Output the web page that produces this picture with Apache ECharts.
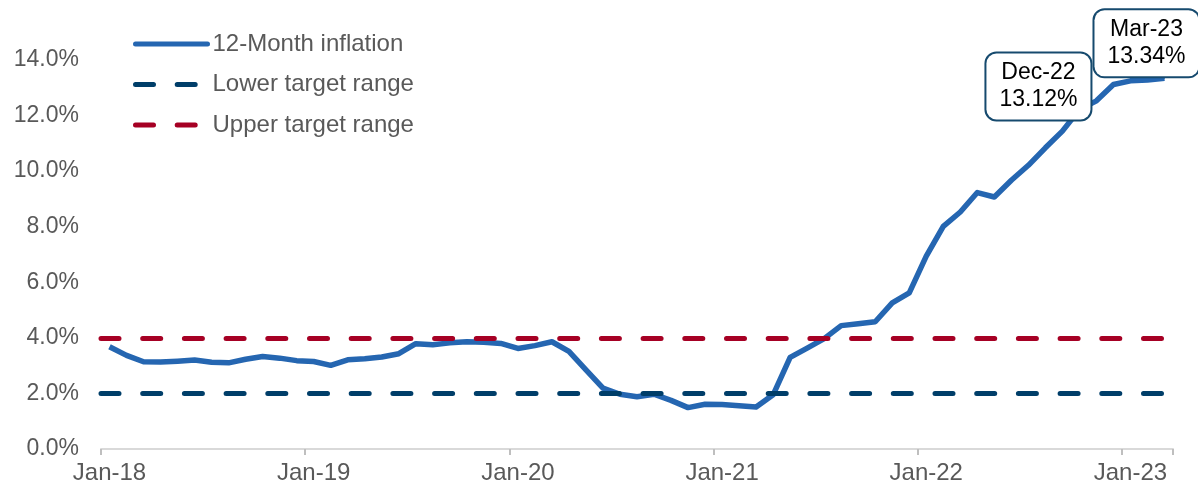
<!DOCTYPE html>
<html>
<head>
<meta charset="utf-8">
<script src="https://cdn.jsdelivr.net/npm/echarts@6/dist/echarts.min.js"></script>
<style>
  html, body { margin: 0; padding: 0; background: #fff; }
  #chart { width: 1198px; height: 488px; }
</style>
</head>
<body>
<div id="chart"></div>
<script>
// month labels Jan-18 .. Mar-23
var monthNames = ['Jan', 'Feb', 'Mar', 'Apr', 'May', 'Jun', 'Jul', 'Aug', 'Sep', 'Oct', 'Nov', 'Dec'];
var years = ['18', '19', '20', '21', '22', '23'];
var categories = [];
years.forEach(function (y) {
  monthNames.forEach(function (m) { categories.push(m + '-' + y); });
});
categories = categories.slice(0, 63);

// 12-month inflation, %
var inflation = [
  3.68, 3.37, 3.14, 3.13, 3.16, 3.20, 3.12, 3.10, 3.23, 3.33, 3.27, 3.18,
  3.15, 3.01, 3.21, 3.25, 3.31, 3.43, 3.79, 3.75, 3.82, 3.86, 3.84, 3.80,
  3.62, 3.72, 3.86, 3.51, 2.85, 2.19, 1.97, 1.88, 1.97, 1.75, 1.49, 1.61,
  1.60, 1.56, 1.51, 1.95, 3.30, 3.63, 3.97, 4.44, 4.51, 4.58, 5.26, 5.62,
  6.94, 8.01, 8.53, 9.23, 9.07, 9.67, 10.21, 10.84, 11.44, 12.22, 12.53, 13.12,
  13.25, 13.28, 13.34
];
var lowerTarget = 2;
var upperTarget = 4;
var yTicks = [0, 2, 4, 6, 8, 10, 12, 14];

var font = 'Liberation Sans, Arial, sans-serif';
var grey = '#595959';

var boxLabel = {
  show: true,
  position: 'inside',
  formatter: function (p) { return p.name + '\n' + p.value.toFixed(2) + '%'; },
  color: '#000',
  fontFamily: font,
  fontSize: 23,
  lineHeight: 27,
  align: 'center',
  verticalAlign: 'middle',
  backgroundColor: '#fff',
  borderColor: '#164a6e',
  borderWidth: 2,
  borderRadius: 10,
  padding: [6, 13]
};

var lineData = inflation.map(function (v, i) {
  if (categories[i] === 'Dec-22') {
    return { value: v, symbol: 'circle', symbolSize: 1,
      label: Object.assign({}, boxLabel, { offset: [-75, 2] }) };
  }
  if (categories[i] === 'Mar-23') {
    return { value: v, symbol: 'circle', symbolSize: 1,
      label: Object.assign({}, boxLabel, { offset: [-18, -35] }) };
  }
  return v;
});

var chart = echarts.init(document.getElementById('chart'));
chart.setOption({
  animation: false,
  grid: { left: 101, right: 25, top: 60, bottom: 39 },
  legend: {
    orient: 'vertical',
    left: 128,
    top: 27,
    itemWidth: 72,
    itemHeight: 14,
    itemGap: 16.5,
    textStyle: { fontFamily: font, fontSize: 24, color: grey },
    itemStyle: { opacity: 0 },
    lineStyle: { width: 5, cap: 'round' },
    data: ['12-Month inflation', 'Lower target range', 'Upper target range']
  },
  xAxis: {
    type: 'category',
    data: categories,
    boundaryGap: true,
    axisLine: { lineStyle: { color: '#d9d9d9', width: 2 } },
    axisTick: { show: true, interval: 11, length: 6, lineStyle: { color: '#bfbfbf', width: 2 } },
    axisLabel: { interval: 11, margin: 12, fontFamily: font, fontSize: 24, color: grey },
    splitLine: { show: false }
  },
  yAxis: {
    type: 'value',
    min: yTicks[0],
    max: yTicks[yTicks.length - 1],
    interval: 2,
    axisLine: { show: false },
    axisTick: { show: false },
    splitLine: { show: false },
    axisLabel: {
      margin: 22, fontFamily: font, fontSize: 23, color: grey,
      formatter: function (v) { return v.toFixed(1) + '%'; }
    }
  },
  series: [
    {
      name: '12-Month inflation',
      type: 'line',
      data: lineData,
      symbol: 'none',
      lineStyle: { color: '#2566b1', width: 5.5, join: 'round' },
      itemStyle: { color: '#2566b1' }
    },
    {
      name: 'Lower target range',
      type: 'line',
      data: [],
      symbol: 'none',
      lineStyle: { color: '#003e69', width: 5, type: [18, 23.7], cap: 'round' },
      itemStyle: { color: '#003e69' },
      markLine: {
        silent: true,
        symbol: ['none', 'none'],
        label: { show: false },
        lineStyle: { color: '#003e69', width: 5, type: [18, 23.7], cap: 'round' },
        data: [{ yAxis: lowerTarget }]
      }
    },
    {
      name: 'Upper target range',
      type: 'line',
      data: [],
      symbol: 'none',
      lineStyle: { color: '#a60024', width: 5, type: [18, 23.7], cap: 'round' },
      itemStyle: { color: '#a60024' },
      markLine: {
        silent: true,
        symbol: ['none', 'none'],
        label: { show: false },
        lineStyle: { color: '#a60024', width: 5, type: [18, 23.7], cap: 'round' },
        data: [{ yAxis: upperTarget }]
      }
    }
  ]
});
</script>
</body>
</html>
